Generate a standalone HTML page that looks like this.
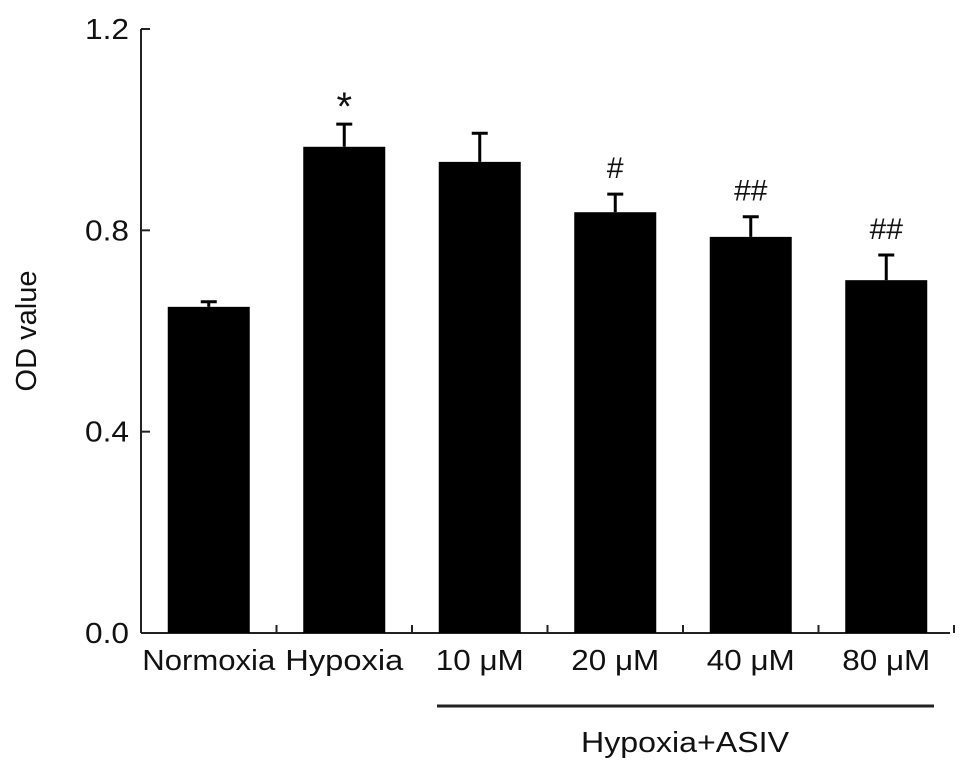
<!DOCTYPE html>
<html><head><meta charset="utf-8"><style>
body{margin:0;background:#fff}
svg text{font-family:"Liberation Sans",sans-serif;fill:#111}
</style></head><body>
<svg width="969" height="770">
<g id="g"></g>
</svg>
<script>
const categories=["Normoxia","Hypoxia","10 μM","20 μM","40 μM","80 μM"];
const values=[0.648,0.966,0.936,0.836,0.787,0.701];
const errors=[0.010,0.045,0.057,0.036,0.040,0.050];
const marks=["","*","","#","##","##"];
const yTicks=[0.0,0.4,0.8,1.2];
const yTickLabels=["0.0","0.4","0.8","1.2"];
const NS="http://www.w3.org/2000/svg";
const g=document.getElementById('g');
const x0=141,band=135.5,y0=633,yTop=29,ymax=1.2;
const y=v=>y0-(v/ymax)*(y0-yTop);
const xc=i=>x0+band*(i+0.5);
function mk(t,a,p){const e=document.createElementNS(NS,t);for(const k in a)e.setAttribute(k,a[k]);(p||g).appendChild(e);return e;}
let e;
e=mk('line',{x1:x0,y1:yTop,x2:x0,y2:y0,stroke:'#222','stroke-width':2});


e=mk('line',{x1:x0,y1:y0,x2:x0+band*categories.length-4,y2:y0,stroke:'#222','stroke-width':2});


yTicks.forEach((t,i)=>{
 e=mk('line',{x1:x0,y1:y(t),x2:x0+9,y2:y(t),stroke:'#222','stroke-width':2});
 
 
 e=mk('text',{x:x0-12,y:y(t)+10,'text-anchor':'end','font-size':29,'textLength':44,'lengthAdjust':'spacingAndGlyphs'});
 e.textContent=yTickLabels[i];
 
 
});
for(let i=1;i<=categories.length;i++){
 e=mk('line',{x1:x0+band*i,y1:y0,x2:x0+band*i,y2:y0-8,stroke:'#222','stroke-width':2});
 
 
}
const labelW=[133,118,88,88,88,88];
categories.forEach((c,i)=>{
 const cx=xc(i);
 e=mk('line',{x1:cx,y1:y(values[i]),x2:cx,y2:y(values[i]+errors[i]),stroke:'#000','stroke-width':3});
 
 
 e=mk('line',{x1:cx-8,y1:y(values[i]+errors[i]),x2:cx+8,y2:y(values[i]+errors[i]),stroke:'#000','stroke-width':3});
 
 
 e=mk('rect',{x:cx-41,y:y(values[i]),width:82,height:y0-y(values[i]),fill:'#000'});
 
 
 e=mk('text',{x:cx,y:670,'text-anchor':'middle','font-size':29,'textLength':labelW[i],'lengthAdjust':'spacingAndGlyphs'});
 e.textContent=c;
 
 
 if(marks[i]){
  e=mk('text',{x:cx,y:y(values[i]+errors[i])-(marks[i]=='*'?4:16),'text-anchor':'middle','font-size':marks[i]=='*'?40:30,'font-family':'Liberation Serif'});
  e.textContent=marks[i];
  
  
 }
});
e=mk('line',{x1:437,y1:706,x2:934,y2:706,stroke:'#222','stroke-width':3});


e=mk('text',{x:685,y:752,'text-anchor':'middle','font-size':29,'textLength':208,'lengthAdjust':'spacingAndGlyphs'});
e.textContent="Hypoxia+ASIV";


e=mk('text',{x:0,y:0,'text-anchor':'middle','font-size':29,transform:'translate(36,331) rotate(-90)'});
e.textContent="OD value";


</script>
</body></html>
